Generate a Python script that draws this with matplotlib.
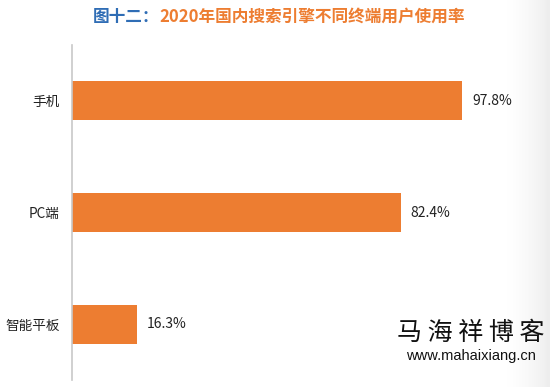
import matplotlib.pyplot as plt
import numpy as np

plt.rcParams['font.family'] = ['Noto Sans CJK SC', 'DejaVu Sans']

categories = ['手机', 'PC端', '智能平板']
values = [97.8, 82.4, 16.3]
title_head = '图十二：'
title_rest = '2020年国内搜索引擎不同终端用户使用率'

bar_color = '#ed7d31'
blue = '#2f6db5'

fig = plt.figure(figsize=(5.5, 3.87), dpi=100)
fig.patch.set_facecolor('white')

# faint gray shade along the right edge
bg = fig.add_axes([0, 0, 1, 1], zorder=-1)
grad = np.linspace(0, 1, 200)
grad = np.clip((grad - 0.92) / 0.08, 0, 1) ** 1.5
bg.imshow(np.tile(grad, (2, 1)), cmap='Greys', vmin=0, vmax=7, aspect='auto', extent=[0, 1, 0, 1])
bg.axis('off')

ax = fig.add_axes([72 / 550, 7 / 387, 478 / 550, 335 / 387])
ax.patch.set_alpha(0)
y = np.arange(len(categories))
ax.barh(y, values, height=0.35, color=bar_color)
for i, v in enumerate(values):
    ax.text(v + 2.5, i, f'{v}%', va='center', ha='left', fontsize=10, color='#222222')

ax.set_xlim(0, 119.8)
ax.set_ylim(2.5, -0.5)
ax.set_yticks(y)
ax.set_yticklabels(categories, fontsize=9.8, color='#222222')
ax.tick_params(axis='y', length=0, pad=9)
ax.set_xticks([])
for s in ['top', 'right', 'bottom']:
    ax.spines[s].set_visible(False)
ax.spines['left'].set_color('#c8c8c8')
ax.spines['left'].set_linewidth(1.2)

# two-colour title
t1 = fig.text(93 / 550, 1 - 17 / 387, title_head, color=blue, fontsize=12,
              fontweight='bold', va='center', ha='left')
fig.canvas.draw()
bb = t1.get_window_extent()
x1 = bb.x1 / fig.bbox.width
fig.text(x1, 1 - 17 / 387, title_rest, color=bar_color, fontsize=12,
         fontweight='bold', va='center', ha='left')

# watermark
fig.text(471 / 550, 1 - 333 / 387, '马 海 祥 博 客', fontsize=18, color='#111111',
         ha='center', va='center')
fig.text(471 / 550, 1 - 356 / 387, 'www.mahaixiang.cn', fontsize=10.5,
         color='#111111', ha='center', va='center', family='Liberation Sans')

fig.savefig('out.png', dpi=100)
